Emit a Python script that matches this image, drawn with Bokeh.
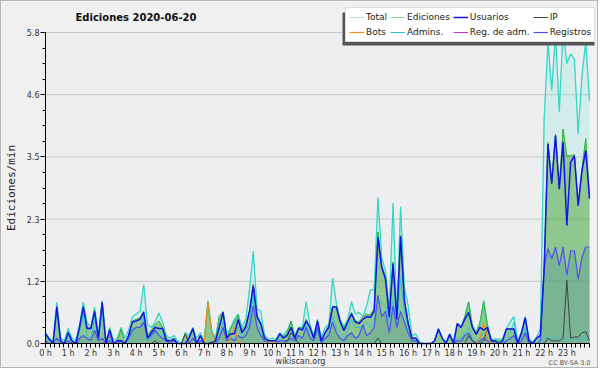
from bokeh.plotting import figure
from bokeh.models import (ColumnDataSource, Range1d, FixedTicker, Legend, LegendItem,
                          Label, BoxAnnotation)
from bokeh.embed import file_html
from bokeh.resources import INLINE

# ---- data: one value every 10 minutes, 0 h .. 24 h ----
hours = [i / 6 for i in range(145)]

total = [0.2, 0.1, 0.05, 0.77, 0.1, 0.05, 0.28, 0.1, 0.05, 0.35, 0.77, 0.4,
         0.3, 0.68, 0.15, 0.8, 0.05, 0.3, 0.05, 0.1, 0.3, 0.1, 0.25, 0.5,
         0.55, 0.6, 1.1, 0.35, 0.3, 0.4, 0.57, 0.4, 0.15, 0.1, 0.15, 0.05,
         0.0, 0.2, 0.15, 0.3, 0.1, 0.2, 0.05, 0.8, 0.25, 0.1, 0.5, 0.6,
         0.15, 0.3, 0.45, 0.55, 0.3, 0.45, 1.0, 1.72, 0.65, 0.6, 0.15, 0.08,
         0.1, 0.08, 0.2, 0.15, 0.25, 0.42, 0.15, 0.3, 0.3, 0.78, 0.35, 0.15,
         0.45, 0.1, 0.3, 0.35, 1.22, 0.75, 0.45, 0.32, 0.45, 0.78, 0.55, 0.58,
         0.5, 0.7, 1.0, 1.0, 2.72, 1.6, 1.35, 0.65, 2.62, 0.5, 2.55, 1.05,
         0.7, 0.15, 0.18, 0.03, 0.0, 0.0, 0.0, 0.05, 0.28, 0.1, 0.03, 0.18,
         0.03, 0.38, 0.32, 0.5, 0.78, 0.35, 0.2, 0.35, 0.8, 0.35, 0.08, 0.08,
         0.08, 0.08, 0.28, 0.4, 0.5, 0.05, 0.22, 0.5, 0.08, 0.03, 0.12, 0.28,
         4.2, 5.62, 4.72, 5.78, 4.32, 5.85, 5.22, 5.4, 5.31, 3.91, 5.0, 5.62,
         4.53]

ediciones = [0.18, 0.08, 0.0, 0.7, 0.05, 0.0, 0.22, 0.05, 0.0, 0.3, 0.7, 0.3,
             0.28, 0.62, 0.1, 0.77, 0.0, 0.28, 0.0, 0.05, 0.27, 0.0, 0.15, 0.42,
             0.45, 0.48, 0.6, 0.15, 0.25, 0.35, 0.42, 0.3, 0.1, 0.05, 0.1, 0.0,
             0.0, 0.18, 0.1, 0.28, 0.0, 0.15, 0.0, 0.77, 0.2, 0.05, 0.5, 0.58,
             0.1, 0.28, 0.4, 0.53, 0.25, 0.35, 0.62, 1.1, 0.52, 0.38, 0.1, 0.05,
             0.05, 0.05, 0.18, 0.12, 0.2, 0.42, 0.1, 0.3, 0.28, 0.45, 0.3, 0.1,
             0.42, 0.05, 0.2, 0.35, 0.7, 0.68, 0.42, 0.28, 0.42, 0.58, 0.42, 0.4,
             0.5, 0.55, 0.53, 0.65, 2.08, 1.45, 1.25, 0.55, 1.52, 0.48, 2.02, 0.82,
             0.4, 0.1, 0.1, 0.0, 0.0, 0.0, 0.0, 0.05, 0.27, 0.1, 0.0, 0.17,
             0.0, 0.37, 0.3, 0.5, 0.77, 0.3, 0.2, 0.4, 0.77, 0.32, 0.05, 0.05,
             0.05, 0.05, 0.27, 0.27, 0.27, 0.0, 0.2, 0.48, 0.05, 0.0, 0.1, 0.15,
             1.42, 3.75, 3.0, 3.9, 2.9, 4.0, 3.5, 3.5, 3.52, 2.6, 3.25, 3.82,
             2.75]

usuarios = [0.18, 0.08, 0.0, 0.68, 0.05, 0.0, 0.2, 0.05, 0.0, 0.3, 0.68, 0.28,
            0.28, 0.6, 0.1, 0.77, 0.0, 0.25, 0.0, 0.05, 0.05, 0.0, 0.15, 0.4,
            0.42, 0.45, 0.58, 0.1, 0.2, 0.3, 0.28, 0.28, 0.05, 0.05, 0.08, 0.0,
            0.0, 0.0, 0.1, 0.28, 0.0, 0.15, 0.0, 0.0, 0.0, 0.05, 0.3, 0.58,
            0.1, 0.18, 0.18, 0.45, 0.2, 0.3, 0.6, 1.08, 0.5, 0.36, 0.1, 0.05,
            0.05, 0.05, 0.18, 0.1, 0.15, 0.3, 0.1, 0.28, 0.25, 0.42, 0.3, 0.1,
            0.42, 0.05, 0.2, 0.3, 0.68, 0.68, 0.4, 0.24, 0.4, 0.55, 0.4, 0.37,
            0.45, 0.5, 0.49, 0.6, 1.98, 1.42, 1.2, 0.49, 1.49, 0.45, 2.0, 0.8,
            0.37, 0.1, 0.1, 0.0, 0.0, 0.0, 0.0, 0.05, 0.27, 0.1, 0.0, 0.17,
            0.0, 0.37, 0.3, 0.45, 0.58, 0.3, 0.17, 0.3, 0.25, 0.3, 0.05, 0.05,
            0.0, 0.05, 0.27, 0.27, 0.27, 0.0, 0.2, 0.48, 0.05, 0.0, 0.1, 0.15,
            1.4, 3.72, 2.98, 3.88, 2.88, 3.76, 2.2, 3.38, 3.5, 2.57, 3.22, 3.6,
            2.7]

ip = [0, 0, 0, 0, 0, 0, 0, 0, 0.03, 0, 0, 0,
      0, 0, 0, 0, 0, 0, 0, 0, 0, 0, 0, 0,
      0, 0, 0, 0, 0, 0.05, 0, 0, 0, 0, 0, 0,
      0, 0.18, 0, 0, 0, 0, 0, 0, 0.03, 0, 0, 0,
      0, 0, 0, 0, 0, 0, 0, 0, 0, 0, 0, 0,
      0, 0, 0, 0, 0.05, 0.2, 0.1, 0, 0, 0, 0, 0,
      0, 0, 0, 0, 0, 0, 0, 0, 0, 0, 0, 0,
      0, 0, 0, 0, 0.1, 0, 0, 0, 0, 0, 0, 0,
      0, 0, 0, 0, 0, 0, 0, 0, 0, 0, 0, 0,
      0, 0, 0, 0, 0.15, 0.05, 0, 0, 0.05, 0.27, 0.05, 0,
      0, 0, 0, 0, 0, 0, 0, 0, 0, 0, 0, 0,
      0, 0.1, 0.05, 0.05, 0.05, 0.1, 1.18, 0.1, 0.12, 0.12, 0.2, 0.22,
      0.05]

bots = [0, 0, 0, 0, 0, 0, 0, 0, 0, 0, 0, 0,
        0, 0, 0, 0, 0, 0, 0, 0, 0, 0, 0, 0,
        0, 0, 0, 0, 0, 0, 0, 0, 0, 0, 0, 0,
        0, 0, 0, 0, 0, 0, 0, 0.77, 0.2, 0, 0, 0,
        0, 0.1, 0.3, 0.05, 0, 0, 0, 0, 0, 0, 0, 0.05,
        0.05, 0, 0, 0, 0, 0, 0, 0, 0, 0, 0, 0,
        0, 0, 0, 0, 0, 0, 0, 0, 0, 0, 0, 0,
        0, 0, 0, 0, 0, 0, 0, 0, 0, 0, 0, 0,
        0, 0, 0, 0, 0, 0, 0, 0, 0, 0, 0, 0,
        0, 0, 0, 0, 0, 0, 0, 0.1, 0.38, 0.1, 0, 0,
        0, 0, 0, 0, 0, 0, 0, 0, 0, 0, 0, 0,
        0, 0, 0, 0, 0, 0, 0, 0, 0, 0, 0, 0,
        0]

admins = [0.1, 0.05, 0, 0.6, 0, 0, 0.15, 0, 0, 0.2, 0.55, 0.15,
          0.1, 0.45, 0.05, 0.6, 0, 0.1, 0, 0, 0.05, 0, 0.05, 0.2,
          0.3, 0.3, 0.5, 0.05, 0.1, 0.2, 0.25, 0.15, 0.05, 0, 0, 0,
          0, 0, 0, 0.1, 0, 0.05, 0, 0, 0, 0, 0.15, 0.4,
          0.05, 0.1, 0.1, 0.3, 0.1, 0.2, 0.4, 0.9, 0.35, 0.25, 0.05, 0,
          0, 0, 0.1, 0.05, 0.05, 0.15, 0.05, 0.15, 0.1, 0.35, 0.15, 0.05,
          0.25, 0, 0.1, 0.2, 0.5, 0.3, 0.2, 0.1, 0.25, 0.45, 0.3, 0.3,
          0.3, 0.4, 0.3, 0.45, 0.77, 0.77, 0.7, 0.4, 0.8, 0.3, 1.2, 0.6,
          0.3, 0.05, 0.1, 0, 0, 0, 0, 0, 0, 0, 0, 0,
          0, 0.1, 0.1, 0.2, 0.3, 0.1, 0.05, 0.1, 0.2, 0.1, 0, 0,
          0, 0, 0.1, 0.2, 0.4, 0, 0.05, 0.3, 0, 0, 0, 0,
          0.1, 0.1, 0.15, 0.1, 0.05, 0.1, 0.1, 0.05, 0.1, 0.05, 0.1, 0.1,
          0.1]

reg_adm = [0, 0, 0, 0, 0, 0, 0, 0, 0, 0, 0, 0,
           0, 0, 0, 0, 0.05, 0.15, 0, 0, 0, 0, 0, 0,
           0, 0, 0, 0, 0, 0, 0, 0, 0, 0, 0, 0,
           0, 0, 0, 0, 0, 0, 0, 0, 0, 0, 0, 0,
           0, 0, 0, 0, 0, 0, 0, 0, 0, 0, 0, 0,
           0, 0, 0, 0, 0, 0, 0, 0, 0, 0, 0, 0,
           0, 0, 0, 0, 0, 0, 0, 0, 0, 0, 0, 0,
           0, 0, 0, 0, 0, 0, 0, 0, 0, 0, 0, 0,
           0, 0, 0, 0, 0, 0, 0, 0, 0, 0, 0, 0,
           0, 0, 0, 0, 0, 0, 0, 0, 0, 0, 0, 0,
           0, 0, 0, 0, 0, 0, 0, 0, 0, 0, 0, 0,
           0, 0, 0, 0, 0, 0, 0, 0, 0, 0, 0, 0,
           0]

registros = [0.05, 0, 0, 0.1, 0, 0, 0.05, 0, 0, 0.1, 0.15, 0.1,
             0.05, 0.25, 0.05, 0.1, 0, 0.05, 0, 0, 0.05, 0, 0.1, 0.25,
             0.3, 0.3, 0.4, 0.1, 0.15, 0.25, 0.15, 0.1, 0.05, 0, 0.05, 0,
             0, 0, 0, 0.1, 0, 0.05, 0, 0, 0, 0, 0.1, 0.3,
             0.05, 0.1, 0.05, 0.15, 0.1, 0.15, 0.3, 0.7, 0.3, 0.15, 0.05, 0,
             0, 0, 0.05, 0.05, 0.05, 0.1, 0.05, 0.15, 0.1, 0.3, 0.1, 0.05,
             0.3, 0, 0.1, 0.15, 0.4, 0.2, 0.1, 0.05, 0.15, 0.2, 0.1, 0.15,
             0.35, 0.15, 0.2, 0.3, 0.9, 0.5, 0.6, 0.2, 0.7, 0.3, 0.6, 0.4,
             0.2, 0.05, 0.05, 0, 0, 0, 0, 0, 0, 0, 0, 0,
             0, 0.05, 0.05, 0.15, 0.2, 0.05, 0, 0.05, 0.1, 0.05, 0, 0,
             0, 0, 0.05, 0.1, 0.15, 0, 0.05, 0.2, 0, 0, 0, 0.05,
             1.42, 1.77, 1.58, 1.8, 1.45, 1.8, 1.27, 1.73, 1.73, 1.2, 1.6, 1.8,
             1.8]

hour_ticks = list(range(24))
hour_labels = {h: f"{h} h" for h in hour_ticks}
y_ticks = [0.0, 1.16, 2.32, 3.48, 4.64, 5.8]
y_labels = {0.0: "0.0", 1.16: "1.2", 2.32: "2.3", 3.48: "3.5", 4.64: "4.6", 5.8: "5.8"}
X_MAX = 24
Y_MAX = 5.8

series_names = ["Total", "Ediciones", "Usuarios", "IP", "Bots", "Admins.", "Reg. de adm.", "Registros"]

# ---- layout (pixels inside the figure) ----
W, H = 598, 368
PL, PR, PT, PB = 44, 588, 31, 342          # plot area edges
kx = (PR - PL) / X_MAX
ky = (PB - PT) / Y_MAX

src = ColumnDataSource(dict(h=hours, total=total, ed=ediciones, us=usuarios, ip=ip,
                            bots=bots, adm=admins, regadm=reg_adm, reg=registros))

FONT = "DejaVu Sans"

p = figure(width=W, height=H, output_backend="svg", toolbar_location=None, title=None,
           x_range=Range1d(-PL / kx, (W - PL) / kx),
           y_range=Range1d(-(H - PB) / ky, PB / ky),
           min_border=0, min_border_left=0, min_border_right=0,
           min_border_top=0, min_border_bottom=0,
           background_fill_color="#f0f0f0", border_fill_color="#f0f0f0",
           outline_line_color=None)
p.styles = {"border": "1px solid #b4b4b4"}

# plot-area background
p.add_layout(BoxAnnotation(left=0, right=X_MAX, bottom=0, top=Y_MAX, fill_color="#eceef0",
                           fill_alpha=1, line_color=None, level="underlay"))
# horizontal grid
p.segment(x0=0, x1=X_MAX, y0=y_ticks[1:], y1=y_ticks[1:], line_color="#c8c8c8", line_width=1)

# pale legend-style lines (hidden under the real ones)
r_total_lg = p.line("h", "total", source=src, line_color="#a8e6e2", line_width=1)
r_ed_lg = p.line("h", "ed", source=src, line_color="#90d490", line_width=1)

# areas
p.varea(x="h", y1=0, y2="total", source=src, fill_color="#40e0d0", fill_alpha=0.15)
p.varea(x="h", y1=0, y2="ed", source=src, fill_color="#4ca633", fill_alpha=0.5)
p.varea(x="h", y1=0, y2="reg", source=src, fill_color="#2162a6", fill_alpha=0.2)

# lines
p.line("h", "total", source=src, line_color="#35d6c6", line_width=1.2)
r_adm = p.line("h", "adm", source=src, line_color="#30c4d8", line_width=1)
p.line("h", "ed", source=src, line_color="#3cb43c", line_width=1)
r_reg = p.line("h", "reg", source=src, line_color="#5050f0", line_width=1.2)
r_ip = p.line("h", "ip", source=src, line_color="#404040", line_width=1)
r_bots = p.line("h", "bots", source=src, line_color="#f09020", line_width=1.2)
r_regadm = p.line("h", "regadm", source=src, line_color="#d030d0", line_width=1)
r_us = p.line("h", "us", source=src, line_color="#1414e6", line_width=1.5)

# axes, pinned to the data origin
xa = p.xaxis[0]
xa.fixed_location = 0
xa.bounds = (0, X_MAX)
xa.ticker = FixedTicker(ticks=hour_ticks, minor_ticks=[k * 0.2 for k in range(121)])
xa.major_label_overrides = hour_labels
ya = p.yaxis[0]
ya.fixed_location = 0
ya.bounds = (0, Y_MAX)
ya.ticker = FixedTicker(ticks=y_ticks, minor_ticks=[k * 0.29 for k in range(21)])
ya.major_label_overrides = y_labels
ya.axis_label = "Ediciones/min"
ya.axis_label_text_font = "DejaVu Sans Mono"
ya.axis_label_text_font_size = "11px"
ya.axis_label_text_font_style = "normal"
ya.axis_label_text_color = "#222222"
ya.axis_label_standoff = 6
for ax in (xa, ya):
    ax.axis_line_color = "black"
    ax.axis_line_width = 1
    ax.major_tick_in = 0
    ax.minor_tick_in = 0
    ax.major_tick_line_color = "black"
    ax.minor_tick_line_color = "black"
    ax.major_label_text_font = FONT
    ax.major_label_text_font_size = "8px"
    ax.major_label_text_color = "#333333"
    ax.major_label_standoff = 1
xa.major_tick_out = 4
xa.minor_tick_out = 4
ya.major_tick_out = 5
ya.minor_tick_out = 3
p.xgrid.visible = False
p.ygrid.visible = False

# title & footer (screen units from the figure's bottom-left)
p.add_layout(Label(x=74, y=H - 16, x_units="screen", y_units="screen",
                   text="Ediciones  2020-06-20", text_font=FONT, text_font_size="10px",
                   text_font_style="bold", text_color="#111111", text_baseline="middle"))
p.add_layout(Label(x=299, y=H - 360, x_units="screen", y_units="screen", text="wikiscan.org",
                   text_font=FONT, text_font_size="8px", text_color="#333333",
                   text_align="center", text_baseline="middle"))
p.add_layout(Label(x=589, y=H - 361, x_units="screen", y_units="screen", text="CC BY-SA 3.0",
                   text_font=FONT, text_font_size="6.5px", text_color="#555555",
                   text_align="right", text_baseline="middle"))

# legend
legend_renderers = [r_total_lg, r_ed_lg, r_us, r_ip, r_bots, r_adm, r_regadm, r_reg]
items = [LegendItem(label=n, renderers=[r]) for n, r in zip(series_names, legend_renderers)]

LG_L, LG_B, LG_W, LG_H = 344, H - 41, 252, 33
p.add_layout(BoxAnnotation(left=LG_L - 3, right=LG_L + LG_W - 3, bottom=LG_B - 3, top=LG_B + LG_H - 3,
                           left_units="screen", right_units="screen",
                           bottom_units="screen", top_units="screen",
                           fill_color="#555555", fill_alpha=1, line_color=None))

legend = Legend(items=items, location=(LG_L, LG_B), orientation="horizontal", ncols=4,
                background_fill_color="white", background_fill_alpha=1,
                border_line_color="#bbbbbb", border_line_width=1,
                label_text_font=FONT, label_text_font_size="9px", label_text_color="#222222",
                glyph_width=15, glyph_height=12, label_height=12, label_standoff=2,
                spacing=3, padding=3, margin=0)
p.add_layout(legend)

open("out.html", "w").write(file_html(p, INLINE))
